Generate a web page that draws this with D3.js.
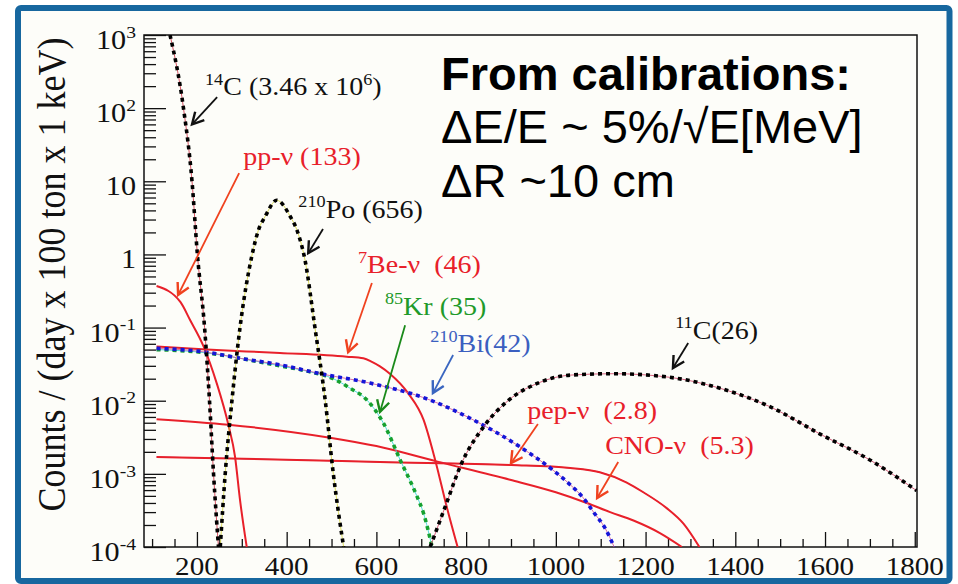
<!DOCTYPE html>
<html>
<head>
<meta charset="utf-8">
<script src="https://cdn.jsdelivr.net/npm/d3@7"></script>
<style>
  html, body { margin: 0; padding: 0; background: #ffffff; }
  svg text { white-space: pre; }
</style>
</head>
<body>
<div id="chart"></div>
<script>
// energy (keV) vs counts / (day x 100 ton x 1 keV)
var c14   = [[140,1e3],[170,1e2],[189,10],[201,1],[217,0.1],[228,0.01],[237,1e-3],[248,1e-4]];
var po210 = [[252,1e-4],[263,1e-3],[278,1e-2],[296,0.1],[322,0.93],[337,2.14],[352,3.3],[378,5.5],[408,3.3],[423,2.14],[441,0.83],[463,0.1],[486,0.01],[504,1e-3],[527,1e-4]];
var ppNu  = [[110,0.37],[163,0.224],[185,0.126],[215,0.055],[244,0.0174],[270,4.7e-3],[285,1.7e-3],[296,4.4e-4],[311,1e-4]];
var be7Nu = [[110,0.055],[222,0.050],[385,0.045],[534,0.040],[571,0.038],[590,0.034],[608,0.0295],[630,0.0234],[671,0.0126],[705,5.5e-3],[731,1.55e-3],[757,3.5e-4],[781,1e-4]];
var kr85  = [[110,0.050],[222,0.045],[296,0.038],[385,0.030],[450,0.025],[504,0.020],[540,0.015],[579,0.0102],[616,4.9e-3],[653,1.55e-3],[690,5e-4],[705,2.9e-4],[724,1e-4]];
var bi210 = [[110,0.052],[222,0.046],[296,0.038],[385,0.031],[475,0.0234],[586,0.0174],[720,0.0102],[809,5.75e-3],[920,2.34e-3],[994,1.12e-3],[1032,7.1e-4],[1061,4.7e-4],[1084,3.0e-4],[1110,1.8e-4],[1130,1e-4]];
var pepNu = [[110,1.7e-3],[423,1.55e-3],[608,1.45e-3],[900,1.32e-3],[1032,1.2e-3],[1098,1.05e-3],[1158,7.6e-4],[1195,5.6e-4],[1247,3.4e-4],[1284,2.1e-4],[1320,1e-4]];
var cnoNu = [[110,5.6e-3],[270,4.7e-3],[500,3.1e-3],[600,2.4e-3],[734,1.48e-3],[898,8.3e-4],[1000,5.6e-4],[1069,4e-4],[1121,3e-4],[1173,2.3e-4],[1232,1.55e-4],[1281,1e-4]];
var c11   = [[720,1e-4],[753,3.5e-4],[790,1.4e-3],[839,4.4e-3],[895,0.0102],[960,0.0174],[1032,0.0224],[1128,0.0234],[1254,0.0209],[1366,0.0148],[1477,8.3e-3],[1589,3.5e-3],[1700,1.55e-3],[1804,5.9e-4]];

var xTicks = [200,400,600,800,1000,1200,1400,1600,1800];
var xTickLabels = ["200","400","600","800","1000","1200","1400","1600","1800"];
var yTicks = [1e-4,1e-3,1e-2,1e-1,1,10,1e2,1e3];
var yTickLabels = ["10^{-4}","10^{-3}","10^{-2}","10^{-1}","1","10","10^{2}","10^{3}"];
var yTitle = "Counts / (day x 100 ton x 1 keV)";

// label text, label anchor, arrow start, arrow tip (all in data units)
var annLabels = ["^{14}C (3.46 x 10^{6})","pp-ν (133)","^{210}Po (656)","^{7}Be-ν  (46)","^{85}Kr (35)","^{210}Bi(42)","^{11}C(26)","pep-ν  (2.8)","CNO-ν  (5.3)"];
var annAt   = [[218,151],[303,16.6],[426,3.15],[559,0.557],[619,0.149],[720,0.0463],[1266,0.0698],[936,0.00562],[1110,0.00187]];
var annFrom = [[245,141],[294,12.9],[481,2.22],[590,0.407],[664,0.108],[771,0.0422],[1295,0.0615],[960,0.0048],[1139,0.00145]];
var annTo   = [[189,60],[158,0.279],[448,1.04],[537,0.0463],[608,0.00702],[726,0.0127],[1261,0.028],[900,0.0014],[1092,4.68e-4]];

var noteLines = ["From calibrations:","ΔE/E ~ 5%/√E[MeV]","ΔR ~10 cm"];

var RED = "#e8202a", ORANGE = "#f0421f";
var series = [
  {data: cnoNu, color: RED, dotted: false},
  {data: pepNu, color: RED, dotted: false, under: "#9a30a0"},
  {data: ppNu,  color: RED, dotted: false},
  {data: be7Nu, color: RED, dotted: false},
  {data: kr85,  color: "#16a02e", dotted: true, under: "#40d8d8"},
  {data: bi210, color: "#1515d8", dotted: true, under: "#d060a0"},
  {data: c14,   color: "#000000", dotted: true, under: "#d04050"},
  {data: po210, color: "#000000", dotted: true, under: "#d8d850"},
  {data: c11,   color: "#000000", dotted: true, under: "#d05070"}
];
var annColors  = ["#111111", RED, "#111111", RED, "#1f9a2a", "#3b5fc0", "#111111", RED, RED];
var arrowColors = ["#111111", ORANGE, "#111111", ORANGE, "#1a8a1a", "#3a66c0", "#111111", ORANGE, ORANGE];

var width = 958, height = 584;
var pLeft = 144, pRight = 917, pTop = 35, pBottom = 547;
var SERIF = "'Liberation Serif','Times New Roman',serif";
var SANS = "'Liberation Sans',Arial,sans-serif";
var STRETCH = 1.12;

var svg = d3.select("#chart").append("svg")
  .attr("width", width).attr("height", height);

svg.append("rect")
  .attr("x", 18).attr("y", 8).attr("width", 931.5).attr("height", 573).attr("rx", 3)
  .attr("fill", "#fdfdf9").attr("stroke", "#17679f").attr("stroke-width", 6);

var x = d3.scaleLinear().domain([82, 1805]).range([pLeft, pRight]);
var y = d3.scaleLog().domain([1e-4, 1e3]).range([pBottom, pTop]);

svg.append("clipPath").attr("id", "plotClip")
  .append("rect").attr("x", pLeft).attr("y", pTop).attr("width", pRight - pLeft).attr("height", pBottom - pTop);

// write "a^{b}c" as text with superscript tspans
function richText(sel, str, size) {
  var parts = str.split(/(\^\{[^}]*\})/).filter(function(s) { return s.length; });
  var up = false;
  parts.forEach(function(p) {
    if (p.indexOf("^{") === 0) {
      sel.append("tspan").attr("font-size", size * 0.65).attr("dy", up ? 0 : -size * 0.42).text(p.slice(2, -1));
      up = true;
    } else {
      sel.append("tspan").attr("dy", up ? size * 0.42 : 0).text(p);
      up = false;
    }
  });
}

// axes: ticks point inwards
var xMinor = [];
for (var v = 100; v <= 1800; v += 50) if (v % 200 !== 0) xMinor.push(v);
var yMinor = [];
for (var d = 1e-4; d < 1e3; d *= 10) for (var k = 2; k <= 9; k++) yMinor.push(d * k);

function styleAxis(g) {
  g.select(".domain").remove();
  g.selectAll("line").attr("stroke", "#111").attr("stroke-width", 1.3);
}
svg.append("g").attr("transform", "translate(0," + pBottom + ")")
  .call(d3.axisBottom(x).tickValues(xMinor).tickSize(-8).tickFormat("")).call(styleAxis);
svg.append("g").attr("transform", "translate(0," + pBottom + ")")
  .call(d3.axisBottom(x).tickValues(xTicks).tickSize(-15).tickFormat("")).call(styleAxis);
svg.append("g").attr("transform", "translate(" + pLeft + ",0)")
  .call(d3.axisLeft(y).tickValues(yMinor).tickSize(-12).tickFormat("")).call(styleAxis);
svg.append("g").attr("transform", "translate(" + pLeft + ",0)")
  .call(d3.axisLeft(y).tickValues(yTicks).tickSize(-22).tickFormat("")).call(styleAxis);

svg.append("rect")
  .attr("x", pLeft).attr("y", pTop).attr("width", pRight - pLeft).attr("height", pBottom - pTop)
  .attr("fill", "none").attr("stroke", "#111").attr("stroke-width", 1.5);

xTicks.forEach(function(t, i) {
  svg.append("text")
    .attr("transform", "translate(" + x(t) + ",575) scale(" + STRETCH + ",1)")
    .attr("text-anchor", "middle").attr("font-family", SERIF).attr("font-size", 26).attr("fill", "#111")
    .text(xTickLabels[i]);
});
yTicks.forEach(function(t, i) {
  var txt = svg.append("text")
    .attr("transform", "translate(136," + (y(t) + 14) + ") scale(" + STRETCH + ",1)")
    .attr("text-anchor", "end").attr("font-family", SERIF).attr("font-size", 27).attr("fill", "#111");
  richText(txt, yTickLabels[i], 27);
});

svg.append("text")
  .attr("transform", "translate(65," + ((pTop + 510) / 2 + 2) + ") rotate(-90) scale(1," + STRETCH + ")")
  .attr("text-anchor", "middle").attr("font-family", SERIF).attr("font-size", 36).attr("fill", "#111")
  .text(yTitle);

// curves
var line = d3.line()
  .x(function(d) { return x(d[0]); })
  .y(function(d) { return y(d[1]); })
  .curve(d3.curveMonotoneX);

var plot = svg.append("g").attr("clip-path", "url(#plotClip)");
series.forEach(function(s) {
  if (s.under) {
    plot.append("path").attr("d", line(s.data)).attr("fill", "none")
      .attr("stroke", s.under).attr("stroke-width", 0.9);
  }
  var p = plot.append("path").attr("d", line(s.data)).attr("fill", "none")
    .attr("stroke", s.color);
  if (s.dotted) {
    p.attr("stroke-width", 3.6).attr("stroke-dasharray", "4,4");
  } else {
    p.attr("stroke-width", 2);
  }
});

// annotations with arrows
annLabels.forEach(function(lab, i) {
  var txt = svg.append("text")
    .attr("transform", "translate(" + x(annAt[i][0]) + "," + y(annAt[i][1]) + ") scale(" + STRETCH + ",1)")
    .attr("font-family", SERIF).attr("font-size", 25).attr("fill", annColors[i]);
  richText(txt, lab, 25);

  var x1 = x(annFrom[i][0]), y1 = y(annFrom[i][1]);
  var x2 = x(annTo[i][0]), y2 = y(annTo[i][1]);
  var a = Math.atan2(y2 - y1, x2 - x1), L = 13;
  svg.append("line").attr("x1", x1).attr("y1", y1).attr("x2", x2).attr("y2", y2)
    .attr("stroke", arrowColors[i]).attr("stroke-width", 1.8);
  svg.append("path")
    .attr("d", "M" + (x2 - L * Math.cos(a - 0.5)) + "," + (y2 - L * Math.sin(a - 0.5)) +
               "L" + x2 + "," + y2 +
               "L" + (x2 - L * Math.cos(a + 0.5)) + "," + (y2 - L * Math.sin(a + 0.5)))
    .attr("fill", "none").attr("stroke", arrowColors[i]).attr("stroke-width", 2.4);
});

// slide note
noteLines.forEach(function(t, i) {
  svg.append("text")
    .attr("x", 441).attr("y", [90, 143, 197][i])
    .attr("font-family", SANS).attr("font-size", 47)
    .attr("font-weight", i === 0 ? "bold" : "normal").attr("fill", "#000")
    .text(t);
});
</script>
</body>
</html>
